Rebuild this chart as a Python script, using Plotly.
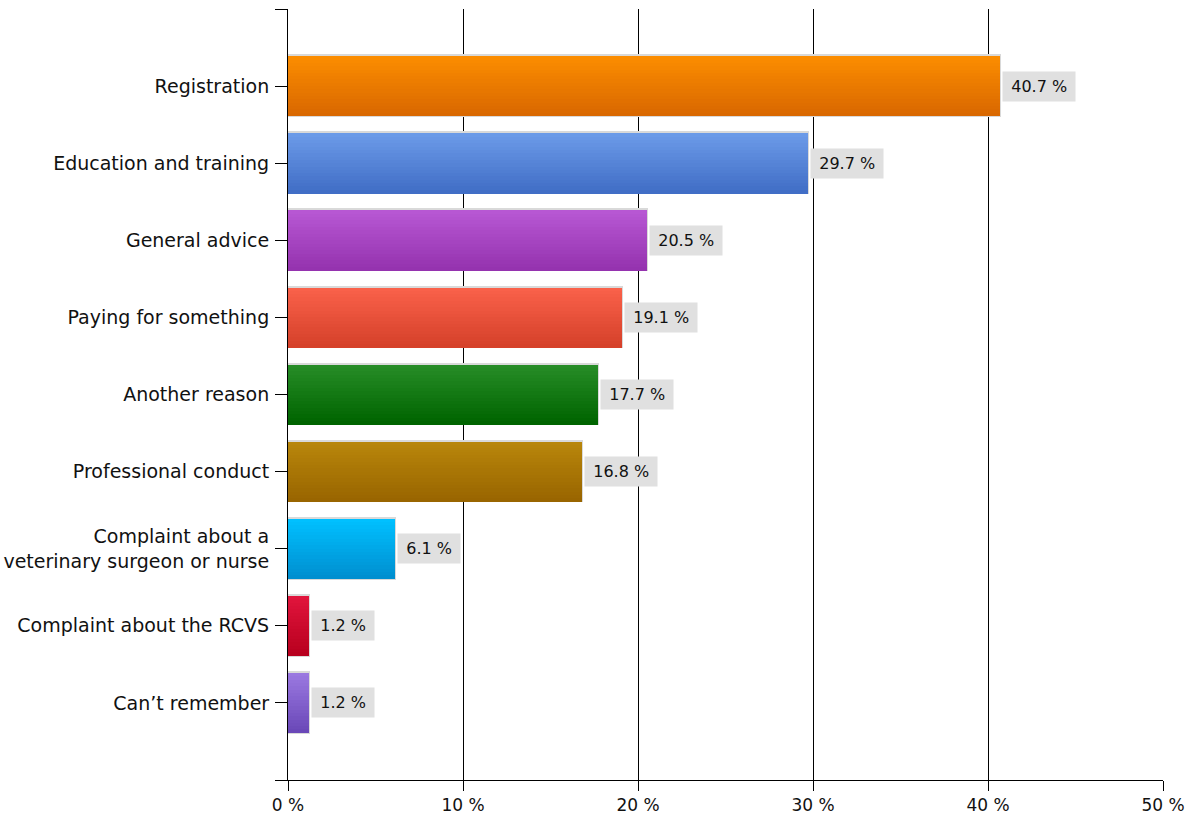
import plotly.graph_objects as go

# Survey: reasons for contacting the RCVS (share of respondents, %)
categories = [
    "Registration",
    "Education and training",
    "General advice",
    "Paying for something",
    "Another reason",
    "Professional conduct",
    "Complaint about a<br>veterinary surgeon or nurse",
    "Complaint about the RCVS",
    "Can\u2019t remember",
]
values = [40.7, 29.7, 20.5, 19.1, 17.7, 16.8, 6.1, 1.2, 1.2]
value_labels = ["40.7 %", "29.7 %", "20.5 %", "19.1 %", "17.7 %", "16.8 %", "6.1 %", "1.2 %", "1.2 %"]
x_ticks = [0, 10, 20, 30, 40, 50]
x_tick_labels = ["0 %", "10 %", "20 %", "30 %", "40 %", "50 %"]

# gradient (top colour, bottom colour) for each bar
top_colors = ["#fb8c00", "#6b9ae8", "#b757d3", "#f9614a", "#268c26",
              "#b8860b", "#00c0ff", "#e0143c", "#9a78e0"]
bottom_colors = ["#d96800", "#416ec6", "#9533af", "#d6412a", "#006400",
                 "#996500", "#008fd0", "#b8001e", "#6a48b8"]

FONT = "DejaVu Sans"
BAR_W = 0.775
N_STRIPS = 18


def hex_to_rgb(h):
    h = h.lstrip("#")
    return tuple(int(h[i:i + 2], 16) for i in (0, 2, 4))


def mix(c1, c2, t):
    a, b = hex_to_rgb(c1), hex_to_rgb(c2)
    return "rgb({},{},{})".format(*[round(a[i] + (b[i] - a[i]) * t) for i in range(3)])


pos = list(range(len(categories)))
fig = go.Figure()

# base bar carrying the light outline
fig.add_trace(go.Bar(
    x=values, y=pos, orientation="h", width=BAR_W, offset=-BAR_W / 2,
    marker=dict(color=bottom_colors, line=dict(color="#d9d9d9", width=3)),
    hoverinfo="skip", showlegend=False,
))

# vertical gradient built from thin horizontal strips
strip = BAR_W / N_STRIPS
for k in range(N_STRIPS):
    t = k / (N_STRIPS - 1)
    fig.add_trace(go.Bar(
        x=values, y=pos, orientation="h",
        width=strip * 1.15, offset=-BAR_W / 2 + k * strip,
        marker=dict(color=[mix(a, b, t) for a, b in zip(top_colors, bottom_colors)],
                    line=dict(width=0)),
        hoverinfo="skip", showlegend=False,
    ))

# value labels in grey boxes
for i, (v, lab) in enumerate(zip(values, value_labels)):
    fig.add_annotation(
        x=v, y=i, xref="x", yref="y", text="\u2009" + lab + "\u2009",
        showarrow=False, xanchor="left", yanchor="middle", xshift=2,
        bgcolor="#e0e0e0", borderpad=5,
        font=dict(family=FONT, size=16, color="#111111"),
    )

fig.update_layout(
    width=1189, height=814,
    margin=dict(l=288, r=26, t=9, b=34),
    paper_bgcolor="white", plot_bgcolor="white",
    barmode="overlay", bargap=0,
    showlegend=False,
)

fig.update_xaxes(
    range=[0, 50], tickvals=x_ticks, ticktext=x_tick_labels,
    showgrid=True, gridcolor="black", gridwidth=1,
    showline=True, linecolor="black", linewidth=1,
    ticks="outside", ticklen=10, tickcolor="black",
    zeroline=False, automargin=False,
    tickfont=dict(family=FONT, size=17, color="#111111"),
)

fig.update_yaxes(
    range=[len(categories), -1],
    tickvals=[-1] + pos + [len(categories)],
    ticktext=[""] + categories + [""],
    showgrid=False, zeroline=False, automargin=False,
    showline=True, linecolor="black", linewidth=1,
    ticks="outside", ticklen=12, tickcolor="black",
    ticklabelstandoff=2,
    tickfont=dict(family=FONT, size=19, color="#111111"),
)

fig.write_html("out.html")
